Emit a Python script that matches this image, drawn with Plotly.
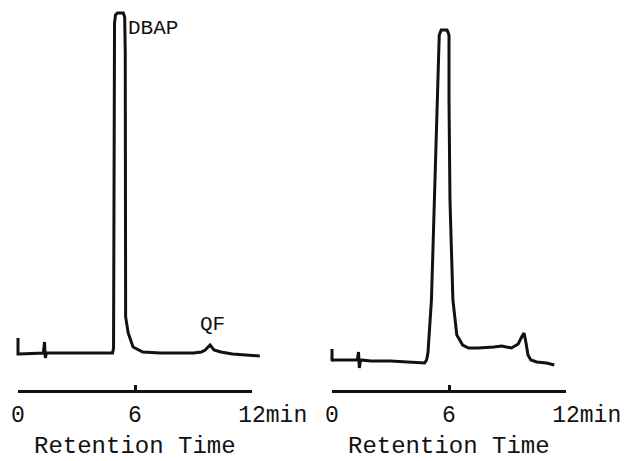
import plotly.graph_objects as go

# ---- data (retention time in min, detector signal in arbitrary units) ----
left_time = [0.0, 0.0, 0.05, 1.30, 1.36, 1.40, 1.46, 3.0, 4.85, 4.90, 4.95, 5.0, 5.1, 5.4,
             5.47, 5.50, 5.52, 5.65, 5.9, 6.4, 7.3, 9.0, 9.4, 9.6, 9.85, 10.05, 10.4, 11.0,
             11.8, 12.4]
left_signal = [15, -1, -1, 0, 11, -5, 0, 0, 0, 5, 330, 338, 340, 340,
               336, 300, 36, 20, 6, 1, 0, 0, 1, 3, 8, 3, 1, -1,
               -2, -3]

right_time = [0.0, 0.0, 0.05, 1.30, 1.36, 1.40, 1.46, 2.0, 3.0, 4.0, 4.75, 4.85, 4.92,
              5.1, 5.25, 5.4, 5.5, 5.6, 5.9, 6.0, 6.0, 6.05, 6.2, 6.4, 6.7, 7.0, 7.5,
              8.3, 8.7, 9.2, 9.55, 9.75, 9.85, 9.95, 10.05, 10.2, 10.5, 11.0, 11.4]
right_signal = [4, -8, -7, -7, 1, -15, -7, -8, -8, -9, -10, -7, 0,
                53, 153, 253, 318, 323, 323, 318, 253, 153, 53, 18, 8, 5, 5,
                6, 7, 5, 9, 17, 20, 10, -2, -7, -9, -10, -12]

scale_ticks = [0, 6, 12]
scale_labels = ["0", "6", "\u00a0\u00a0\u00a012min"]
axis_title = "Retention Time"
peak_labels = ["DBAP", "QF"]
peak_label_time = [6.9, 9.95]
peak_label_signal = [325, 29]

FONT = "Liberation Mono, Courier New, monospace"
INK = "#111111"

fig = go.Figure()

fig.add_trace(go.Scatter(x=left_time, y=left_signal, mode="lines", xaxis="x", yaxis="y",
                         line=dict(color=INK, width=3), hoverinfo="skip", showlegend=False))
fig.add_trace(go.Scatter(x=right_time, y=right_signal, mode="lines", xaxis="x2", yaxis="y",
                         line=dict(color=INK, width=3), hoverinfo="skip", showlegend=False))
# invisible carriers for the two time-scale bars
for ax in ["x3", "x4"]:
    fig.add_trace(go.Scatter(x=[scale_ticks[0], scale_ticks[-1]], y=[None, None], mode="lines",
                             xaxis=ax, yaxis="y", line=dict(width=0), hoverinfo="skip",
                             showlegend=False))

for t, s, txt in zip(peak_label_time, peak_label_signal, peak_labels):
    fig.add_annotation(x=t, y=s, xref="x", yref="y", text=txt, showarrow=False,
                       font=dict(family=FONT, size=21, color=INK))

# page body has an 8px default margin, so the figure is 8px smaller than the window
W, H = 620, 453
half = W / 2
px_per_min = 19.5
left_zero = 10.0          # figure pixels from the left edge of left half
right_zero = 14.0         # figure pixels from the left edge of right half

left_rng = [-left_zero / px_per_min, (half - left_zero) / px_per_min]
right_rng = [-right_zero / px_per_min, (half - right_zero) / px_per_min]

# axis titles (as centred text under each time scale)
for ax in ["x3", "x4"]:
    fig.add_annotation(x=6, y=1 - 438 / H, xref=ax, yref="paper", text=axis_title,
                       showarrow=False, xanchor="center", yanchor="middle",
                       font=dict(family=FONT, size=24, color=INK))

hidden = dict(visible=False, fixedrange=True, automargin=False)
scale_common = dict(
    range=[0, 12], anchor="free", position=1 - 383 / H, automargin=False,
    showline=True, linewidth=3, linecolor=INK,
    ticks="inside", ticklen=5, tickwidth=3, tickcolor=INK,
    tickmode="array", tickvals=scale_ticks, ticktext=scale_labels,
    tickfont=dict(family=FONT, size=23, color=INK), ticklabelstandoff=1,
    minor=dict(tickmode="array", tickvals=[0, 12], ticks="inside", ticklen=10,
               tickwidth=3, tickcolor=INK, showgrid=False),
    showgrid=False, zeroline=False, fixedrange=True,
)

fig.update_layout(
    width=W, height=H,
    margin=dict(l=0, r=0, t=0, b=0, autoexpand=False),
    paper_bgcolor="white", plot_bgcolor="rgba(0,0,0,0)",
    xaxis=dict(domain=[0, 0.5], range=left_rng, **hidden),
    xaxis2=dict(domain=[0.5, 1], range=right_rng, **hidden),
    xaxis3=dict(domain=[left_zero / W, (left_zero + 12 * px_per_min) / W], **scale_common),
    xaxis4=dict(domain=[(half + right_zero) / W, (half + right_zero + 12 * px_per_min) / W],
                **scale_common),
    yaxis=dict(domain=[0, 1], range=[-108, 345], visible=False, fixedrange=True,
               automargin=False),
)

fig.write_html("out.html")
